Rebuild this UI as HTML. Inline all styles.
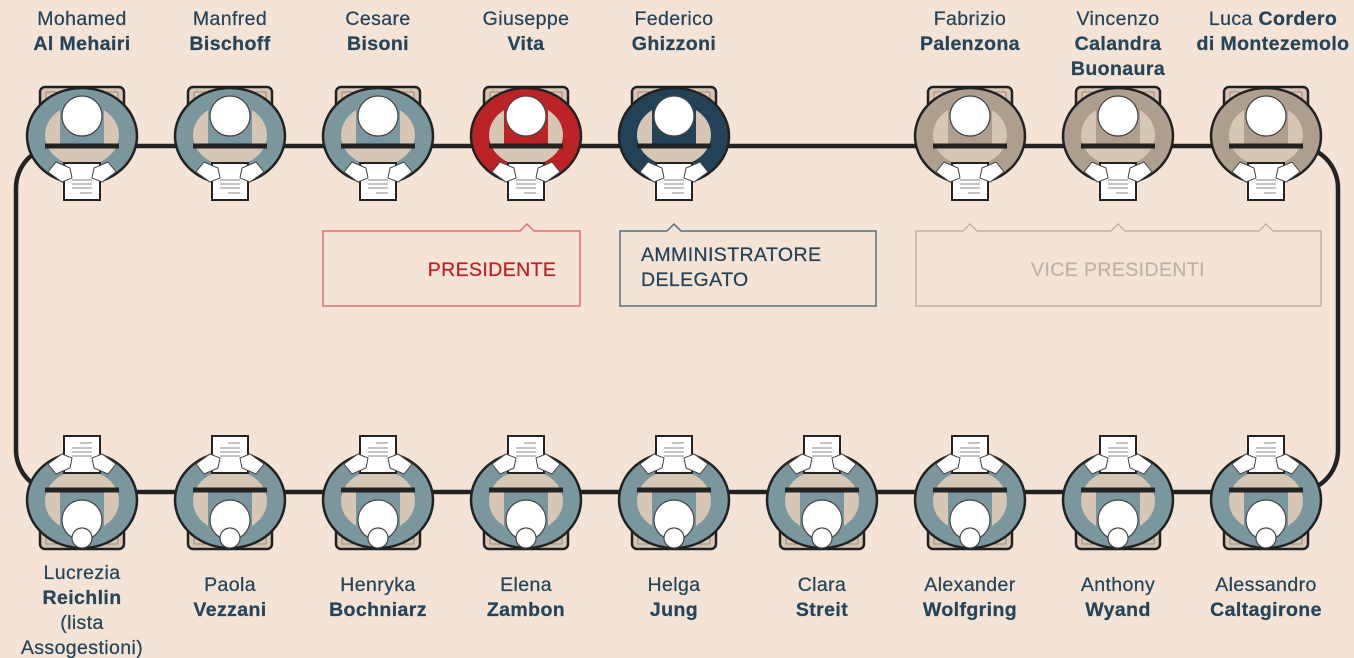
<!DOCTYPE html>
<html><head><meta charset="utf-8"><style>
html,body{margin:0;padding:0;background:#f5e4d5;}
svg{display:block}
text{font-family:"Liberation Sans",sans-serif;font-size:19.5px;fill:#24455b;text-anchor:middle;letter-spacing:0.4px;stroke:#24455b;stroke-width:0.25}
.b{font-weight:bold}
</style></head><body>
<svg width="1354" height="658" viewBox="0 0 1354 658" xmlns="http://www.w3.org/2000/svg">
<defs>
<g id="seat">
  <rect x="-42" y="-49" width="84" height="62" rx="5" fill="#d8c6b5" stroke="#222" stroke-width="2.5"/>
  <rect x="-36" y="-44" width="72" height="50" fill="none" stroke="#9d8c7c" stroke-width="1"/>
  <ellipse cx="0" cy="0" rx="55" ry="48" fill="currentColor" stroke="#222" stroke-width="2.5"/>
  <ellipse cx="0" cy="-1" rx="37" ry="31" fill="#d8c6b5"/>
  <rect x="-22" y="-28" width="44" height="38" fill="currentColor"/>
  <line x1="-37" y1="10" x2="37" y2="10" stroke="#222" stroke-width="5"/>
  <circle cx="0" cy="-20" r="20" fill="#fff" stroke="#444" stroke-width="1.2"/>
  <rect x="-18" y="27" width="36" height="37" fill="#fff" stroke="#222" stroke-width="2"/>
  <line x1="-10" y1="44" x2="10" y2="44" stroke="#888" stroke-width="1"/>
  <line x1="-10" y1="48" x2="10" y2="48" stroke="#888" stroke-width="1"/>
  <line x1="-10" y1="52" x2="10" y2="52" stroke="#888" stroke-width="1"/>
  <line x1="-2" y1="57" x2="10" y2="57" stroke="#888" stroke-width="1"/>
  <path d="M-34 36 L-26 26 L-12 32 L-10 42 L-20 46 Z" fill="#fff" stroke="#444" stroke-width="1"/>
  <path d="M34 36 L26 26 L12 32 L10 42 L20 46 Z" fill="#fff" stroke="#444" stroke-width="1"/>
</g>
<g id="seatb">
  <use href="#seat" transform="scale(1,-1)"/>
  <circle cx="0" cy="38" r="10" fill="#fff" stroke="#444" stroke-width="1.2"/>
</g>
</defs>
<rect x="16" y="146" width="1322" height="346" rx="42" fill="none" stroke="#222" stroke-width="4.5"/>

<g color="#7a969e">
<use href="#seat" x="82" y="136"/><use href="#seat" x="230" y="136"/><use href="#seat" x="378" y="136"/>
</g>
<use href="#seat" x="526" y="136" color="#bb2326"/>
<use href="#seat" x="674" y="136" color="#234257"/>
<g color="#ad9e8d">
<use href="#seat" x="970" y="136"/><use href="#seat" x="1118" y="136"/><use href="#seat" x="1266" y="136"/>
</g>
<g color="#7a969e">
<use href="#seatb" x="82" y="500"/><use href="#seatb" x="230" y="500"/><use href="#seatb" x="378" y="500"/>
<use href="#seatb" x="526" y="500"/><use href="#seatb" x="674" y="500"/><use href="#seatb" x="822" y="500"/>
<use href="#seatb" x="970" y="500"/><use href="#seatb" x="1118" y="500"/><use href="#seatb" x="1266" y="500"/>
</g>

<path d="M323 231 H520 L527 224 L534 231 H580 V306 H323 Z" fill="none" stroke="#d9706f" stroke-width="1.5"/>
<path d="M620 231 H667 L674 224 L681 231 H876 V306 H620 Z" fill="none" stroke="#56707f" stroke-width="1.5"/>
<path d="M916 231 H963 L970 224 L977 231 H1111 L1118 224 L1125 231 H1259 L1266 224 L1273 231 H1321 V306 H916 Z" fill="none" stroke="#c0b3a5" stroke-width="1.5"/>
<text x="492" y="276" style="fill:#bb2326;stroke:#bb2326">PRESIDENTE</text>
<text x="641" y="261" style="fill:#234257;text-anchor:start">AMMINISTRATORE</text>
<text x="641" y="286" style="fill:#234257;text-anchor:start">DELEGATO</text>
<text x="1118" y="276" style="fill:#c0b3a5;stroke:#c0b3a5">VICE PRESIDENTI</text>

<text x="82" y="25">Mohamed</text><text x="82" y="50" class="b">Al Mehairi</text>
<text x="230" y="25">Manfred</text><text x="230" y="50" class="b">Bischoff</text>
<text x="378" y="25">Cesare</text><text x="378" y="50" class="b">Bisoni</text>
<text x="526" y="25">Giuseppe</text><text x="526" y="50" class="b">Vita</text>
<text x="674" y="25">Federico</text><text x="674" y="50" class="b">Ghizzoni</text>
<text x="970" y="25">Fabrizio</text><text x="970" y="50" class="b">Palenzona</text>
<text x="1118" y="25">Vincenzo</text><text x="1118" y="50" class="b">Calandra</text><text x="1118" y="75" class="b">Buonaura</text>
<text x="1273" y="25">Luca <tspan class="b">Cordero</tspan></text><text x="1273" y="50" class="b">di Montezemolo</text>

<text x="82" y="579">Lucrezia</text><text x="82" y="604" class="b">Reichlin</text><text x="82" y="629">(lista</text><text x="82" y="654">Assogestioni)</text>
<text x="230" y="591">Paola</text><text x="230" y="616" class="b">Vezzani</text>
<text x="378" y="591">Henryka</text><text x="378" y="616" class="b">Bochniarz</text>
<text x="526" y="591">Elena</text><text x="526" y="616" class="b">Zambon</text>
<text x="674" y="591">Helga</text><text x="674" y="616" class="b">Jung</text>
<text x="822" y="591">Clara</text><text x="822" y="616" class="b">Streit</text>
<text x="970" y="591">Alexander</text><text x="970" y="616" class="b">Wolfgring</text>
<text x="1118" y="591">Anthony</text><text x="1118" y="616" class="b">Wyand</text>
<text x="1266" y="591">Alessandro</text><text x="1266" y="616" class="b">Caltagirone</text>
</svg>
</body></html>
